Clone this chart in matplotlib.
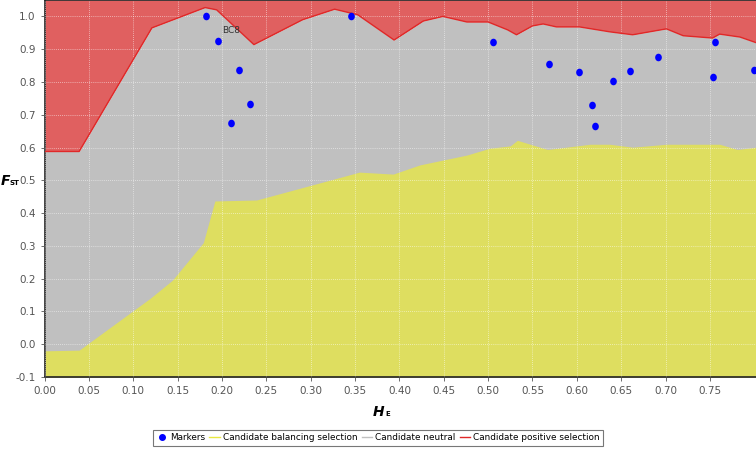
import numpy as np
import matplotlib
matplotlib.use("Agg")
import matplotlib.pyplot as plt
from matplotlib.lines import Line2D

# upper boundary (neutral / positive selection)
upper_he = [0.0, 0.039, 0.121, 0.181, 0.194, 0.236, 0.291, 0.327, 0.353, 0.394,
            0.427, 0.449, 0.476, 0.500, 0.522, 0.532, 0.550, 0.562, 0.577,
            0.603, 0.637, 0.663, 0.701, 0.720, 0.753, 0.761, 0.784, 0.802]
upper_fst = [0.588, 0.588, 0.965, 1.027, 1.020, 0.914, 0.990, 1.022, 1.005, 0.928,
             0.986, 1.000, 0.983, 0.983, 0.959, 0.944, 0.971, 0.977, 0.968,
             0.968, 0.953, 0.944, 0.962, 0.941, 0.934, 0.946, 0.937, 0.920]

# lower boundary (balancing selection / neutral)
lower_he = [0.0, 0.039, 0.119, 0.144, 0.179, 0.192, 0.239, 0.321, 0.355, 0.393,
            0.423, 0.476, 0.502, 0.525, 0.533, 0.567, 0.615, 0.637, 0.663,
            0.701, 0.761, 0.781, 0.802]
lower_fst = [-0.020, -0.018, 0.140, 0.195, 0.310, 0.437, 0.440, 0.500, 0.525, 0.519,
             0.547, 0.577, 0.598, 0.605, 0.622, 0.594, 0.610, 0.610, 0.601,
             0.610, 0.610, 0.594, 0.601]

# loci
marker_he = [0.182, 0.196, 0.219, 0.232, 0.210, 0.346, 0.506, 0.569, 0.602, 0.617,
             0.620, 0.641, 0.660, 0.692, 0.756, 0.754, 0.800]
marker_fst = [1.000, 0.924, 0.836, 0.732, 0.675, 1.000, 0.922, 0.854, 0.830, 0.731,
              0.667, 0.802, 0.833, 0.875, 0.923, 0.815, 0.836]

RED = "#e06060"
GRAY = "#c0c0c0"
YELLOW = "#dede60"
YMIN, YMAX = -0.1, 1.05

fig = plt.figure(figsize=(7.56, 4.51), dpi=100)
ax = fig.add_axes([0.0589, 0.164, 0.9411, 0.836])

ax.fill_between(upper_he, upper_fst, YMAX, color=RED, lw=0, zorder=1)
ax.fill_between(upper_he, YMIN, upper_fst, color=GRAY, lw=0, zorder=1)
ax.fill_between(lower_he, YMIN, lower_fst, color=YELLOW, lw=0, zorder=2)
ax.plot(upper_he, upper_fst, color="#e02828", lw=1.0, zorder=3)

# slightly tall ellipse like the original marker
ellipse = [(0.88 * np.cos(t), np.sin(t)) for t in np.linspace(0, 2 * np.pi, 30)]
ax.scatter(marker_he, marker_fst, s=30, color="#0000ff", marker=ellipse,
           zorder=5, linewidths=0)
ax.annotate("BC8", (marker_he[1], marker_fst[1]), xytext=(3, 6),
            textcoords="offset points", fontsize=6.5, color="#333333", zorder=6)

ax.set_xlim(0, 0.802)
ax.set_ylim(YMIN, YMAX)
ax.set_xticks(np.arange(0, 0.76, 0.05))
ax.set_yticks(np.arange(-0.1, 1.01, 0.1))
ax.set_xticklabels([f"{v:.2f}" for v in np.arange(0, 0.76, 0.05)])
ax.set_yticklabels([f"{v:.1f}" for v in np.arange(-0.1, 1.01, 0.1)])
ax.tick_params(labelsize=7.5, colors="#555555", length=3, width=0.6)
ax.grid(True, color="white", ls=(0, (1, 1.5)), lw=0.6, alpha=0.65, zorder=4)
ax.set_axisbelow(False)
for s in ["left", "bottom", "top"]:
    ax.spines[s].set_color("#222222")
    ax.spines[s].set_linewidth(1.2)
ax.spines["right"].set_visible(False)

# axis labels (bold italic with small subscript)
fig.text(1 / 756, 1 - 181 / 451, "F", fontsize=10, fontweight="bold",
         style="italic", va="center", ha="left")
fig.text(10 / 756, 1 - 183 / 451, "ST", fontsize=5, fontweight="bold",
         va="center", ha="left")
fig.text(373 / 756, 1 - 412 / 451, "H", fontsize=10, fontweight="bold",
         style="italic", va="center", ha="left")
fig.text(385 / 756, 1 - 414 / 451, "E", fontsize=5, fontweight="bold",
         va="center", ha="left")

handles = [
    Line2D([], [], ls="", marker="o", color="#0000ff", markersize=4),
    Line2D([], [], color="#e8e840", lw=1),
    Line2D([], [], color=GRAY, lw=1),
    Line2D([], [], color="#e02828", lw=1),
]
labels = ["Markers", "Candidate balancing selection", "Candidate neutral",
          "Candidate positive selection"]
leg = fig.legend(handles, labels, loc="center", bbox_to_anchor=(0.5, 1 - 438 / 451),
                 ncol=4, fontsize=6.4, frameon=True, fancybox=False,
                 handlelength=1.2, handletextpad=0.3, columnspacing=0.5,
                 borderpad=0.4, borderaxespad=0)
leg.get_frame().set_edgecolor("#555555")
leg.get_frame().set_linewidth(0.8)

fig.savefig("out.png", dpi=100)
